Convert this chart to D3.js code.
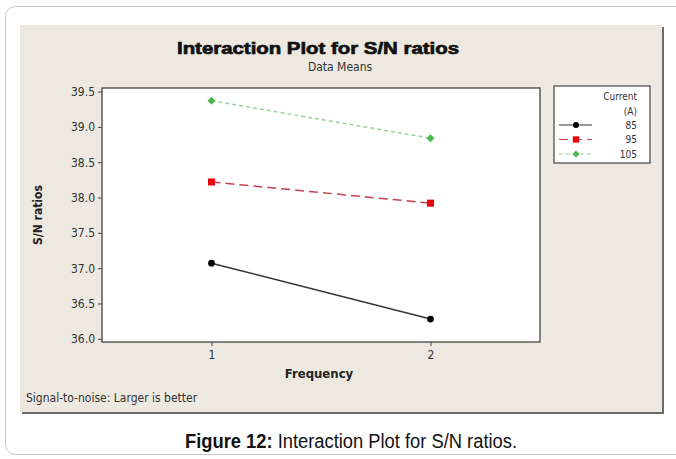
<!DOCTYPE html>
<html>
<head>
<meta charset="utf-8">
<script src="https://cdn.jsdelivr.net/npm/d3@7"></script>
<style>
  body { margin: 0; background: #fff; }
  svg { display: block; }
</style>
</head>
<body>
<div id="chart"></div>
<script>
// data
const frequency = [1, 2];
const currents = ["85", "95", "105"];
const sn85 = [37.07, 36.28];
const sn95 = [38.22, 37.92];
const sn105 = [39.37, 38.84];
const yTicks = [36.0, 36.5, 37.0, 37.5, 38.0, 38.5, 39.0, 39.5];

const series = [
  { name: currents[0], values: sn85, color: "#000", line: "#333", dash: null, shape: d3.symbolCircle, size: 36, rot: 0 },
  { name: currents[1], values: sn95, color: "#e8000b", line: "#c8404f", dash: "9,5", shape: d3.symbolSquare, size: 50, rot: 0 },
  { name: currents[2], values: sn105, color: "#4cb84c", line: "#9ccf9c", dash: "4,3", shape: d3.symbolSquare, size: 32, rot: 45 }
];

const width = 676, height = 459;
const svg = d3.select("#chart").append("svg")
  .attr("width", width)
  .attr("height", height);

// outer card
svg.append("rect")
  .attr("x", 5.5).attr("y", 6.5)
  .attr("width", 700).attr("height", 448)
  .attr("rx", 10)
  .attr("fill", "#fff")
  .attr("stroke", "#c8c8c8");

// beige panel with shadow
svg.append("rect")
  .attr("x", 22).attr("y", 27)
  .attr("width", 642).attr("height", 387)
  .attr("fill", "#6a6a6a");
svg.append("rect")
  .attr("x", 20).attr("y", 25)
  .attr("width", 642).attr("height", 387)
  .attr("fill", "#ede9e0");

const plot = { left: 102, right: 540, top: 88, bottom: 342 };

const x = d3.scaleLinear().domain([0.5, 2.5]).range([plot.left, plot.right]);
const y = d3.scaleLinear().domain([35.955, 39.55]).range([plot.bottom, plot.top]);

svg.append("rect")
  .attr("x", plot.left).attr("y", plot.top)
  .attr("width", plot.right - plot.left).attr("height", plot.bottom - plot.top)
  .attr("fill", "#fff")
  .attr("stroke", "#444")
  .attr("stroke-width", 1.3);

const font = "'DejaVu Sans Condensed', 'DejaVu Sans', sans-serif";
const boldFont = "'DejaVu Sans Condensed', 'DejaVu Sans', sans-serif";

// axes
const yAxis = svg.append("g")
  .attr("transform", `translate(${plot.left},0)`)
  .call(d3.axisLeft(y).tickValues(yTicks).tickFormat(d3.format(".1f")).tickSize(4).tickPadding(3));
const xAxis = svg.append("g")
  .attr("transform", `translate(0,${plot.bottom})`)
  .call(d3.axisBottom(x).tickValues(frequency).tickFormat(d3.format("d")).tickSize(4).tickPadding(4));
[yAxis, xAxis].forEach(a => {
  a.select(".domain").remove();
  a.selectAll("line").attr("stroke", "#444");
  a.selectAll("text")
    .attr("fill", "#333")
    .style("font-family", font)
    .style("font-size", "12px");
});

// lines and markers
const line = d3.line()
  .x((d, i) => x(frequency[i]))
  .y(d => y(d));

series.forEach(s => {
  svg.append("path")
    .datum(s.values)
    .attr("d", line)
    .attr("fill", "none")
    .attr("stroke", s.line)
    .attr("stroke-width", 1.5)
    .attr("stroke-dasharray", s.dash);
  svg.selectAll(null)
    .data(s.values)
    .enter()
    .append("path")
    .attr("transform", (d, i) => `translate(${x(frequency[i])},${y(d)}) rotate(${s.rot})`)
    .attr("d", d3.symbol().type(s.shape).size(s.size))
    .attr("fill", s.color);
});

// titles
svg.append("text")
  .attr("x", 177).attr("y", 54)
  .attr("textLength", 282)
  .attr("lengthAdjust", "spacingAndGlyphs")
  .style("font-family", "'Liberation Sans', Arial, sans-serif")
  .style("font-weight", "bold")
  .style("font-size", "17px")
  .attr("fill", "#111")
  .attr("stroke", "#111")
  .attr("stroke-width", 0.7)
  .text("Interaction Plot for S/N ratios");
svg.append("text")
  .attr("x", 340).attr("y", 71)
  .attr("text-anchor", "middle")
  .style("font-family", font)
  .style("font-size", "12px")
  .attr("fill", "#333")
  .text("Data Means");

svg.append("text")
  .attr("transform", "translate(42,215) rotate(-90)")
  .attr("text-anchor", "middle")
  .style("font-family", boldFont)
  .style("font-weight", "bold")
  .style("font-size", "12px")
  .attr("fill", "#222")
  .text("S/N ratios");

svg.append("text")
  .attr("x", 319).attr("y", 378)
  .attr("text-anchor", "middle")
  .style("font-family", boldFont)
  .style("font-weight", "bold")
  .style("font-size", "13px")
  .attr("fill", "#222")
  .text("Frequency");

svg.append("text")
  .attr("x", 26).attr("y", 402)
  .style("font-family", font)
  .style("font-size", "12px")
  .attr("fill", "#333")
  .text("Signal-to-noise: Larger is better");

// legend
const legend = svg.append("g").attr("transform", "translate(554,86)");
legend.append("rect")
  .attr("width", 96).attr("height", 77)
  .attr("fill", "#fff")
  .attr("stroke", "#444")
  .attr("stroke-width", 1.2);
legend.append("text")
  .attr("x", 83).attr("y", 14)
  .attr("text-anchor", "end")
  .style("font-family", font)
  .style("font-size", "10px")
  .attr("fill", "#333")
  .text("Current");
legend.append("text")
  .attr("x", 83).attr("y", 29)
  .attr("text-anchor", "end")
  .style("font-family", font)
  .style("font-size", "10px")
  .attr("fill", "#333")
  .text("(A)");
const rows = legend.selectAll(".row")
  .data(series)
  .enter()
  .append("g")
  .attr("class", "row")
  .attr("transform", (d, i) => `translate(0,${39 + i * 14.5})`);
rows.append("line")
  .attr("x1", 5).attr("x2", 38)
  .attr("stroke", d => d.line)
  .attr("stroke-width", 1.2)
  .attr("stroke-dasharray", d => d.dash);
rows.append("path")
  .attr("transform", d => `translate(22,0) rotate(${d.rot})`)
  .attr("d", d => d3.symbol().type(d.shape).size(d.size * 0.8)())
  .attr("fill", d => d.color);
rows.append("text")
  .attr("x", 83).attr("y", 3.5)
  .attr("text-anchor", "end")
  .style("font-family", font)
  .style("font-size", "10px")
  .attr("fill", "#333")
  .text(d => d.name);

// caption
const cap = svg.append("text")
  .attr("x", 185).attr("y", 448)
  .attr("textLength", 332)
  .attr("lengthAdjust", "spacingAndGlyphs")
  .style("font-family", "'Liberation Sans', Arial, sans-serif")
  .style("font-size", "20px")
  .attr("fill", "#111");
cap.append("tspan").style("font-weight", "bold").text("Figure 12:");
cap.append("tspan").text(" Interaction Plot for S/N ratios.");
</script>
</body>
</html>
